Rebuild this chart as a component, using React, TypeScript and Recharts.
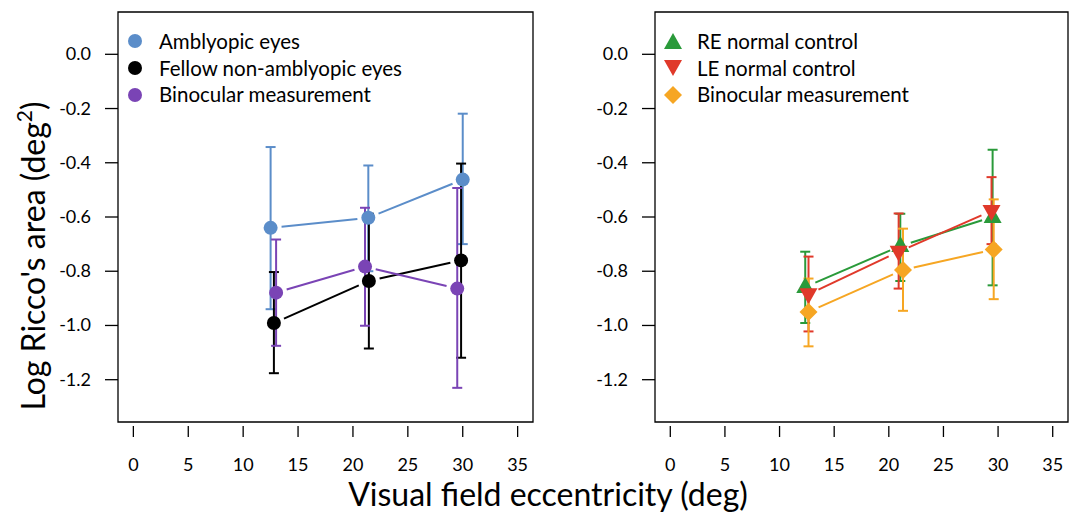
import React from 'react';
import { ScatterChart, Scatter, XAxis, YAxis, ErrorBar, ReferenceArea } from 'recharts';

const FONT = 'Lato, "Open Sans", sans-serif';

// eccentricity (deg), mean log area, lower / upper end of error bar
const amblyopicX = [12.5, 21.4, 30.0];
const amblyopicY = [-0.64, -0.603, -0.462];
const amblyopicLo = [-0.94, -0.8, -0.7];
const amblyopicHi = [-0.342, -0.41, -0.219];

const fellowX = [12.8, 21.45, 29.85];
const fellowY = [-0.991, -0.836, -0.76];
const fellowLo = [-1.176, -1.085, -1.119];
const fellowHi = [-0.803, -0.588, -0.403];

const binoAmbX = [13.0, 21.1, 29.5];
const binoAmbY = [-0.879, -0.783, -0.864];
const binoAmbLo = [-1.075, -1.001, -1.23];
const binoAmbHi = [-0.683, -0.566, -0.493];

const reX = [12.35, 21.05, 29.5];
const reY = [-0.858, -0.707, -0.6];
const reLo = [-0.991, -0.836, -0.852];
const reHi = [-0.728, -0.588, -0.352];

const leX = [12.65, 20.9, 29.4];
const leY = [-0.885, -0.728, -0.578];
const leLo = [-1.022, -0.864, -0.7];
const leHi = [-0.746, -0.587, -0.453];

const binoCtlX = [12.65, 21.3, 29.6];
const binoCtlY = [-0.95, -0.795, -0.72];
const binoCtlLo = [-1.077, -0.946, -0.903];
const binoCtlHi = [-0.827, -0.643, -0.535];

const xTicks = [0, 5, 10, 15, 20, 25, 30, 35];
const yTicks = [0, -0.2, -0.4, -0.6, -0.8, -1.0, -1.2];
const xDomain = [-1.4, 36.4];
const yDomain = [-1.356, 0.156];

const build = (xs: number[], ys: number[], lo: number[], hi: number[]) =>
  xs.map((x, i) => ({ x, y: ys[i], err: [ys[i] - lo[i], hi[i] - ys[i]] }));

const Dot = ({ cx, cy, fill }: any) => <circle cx={cx} cy={cy} r={7} fill={fill} />;
const TriUp = ({ cx, cy, fill }: any) => (
  <path d={`M${cx},${cy - 10}L${cx + 9},${cy + 6}L${cx - 9},${cy + 6}Z`} fill={fill} />
);
const TriDown = ({ cx, cy, fill }: any) => (
  <path d={`M${cx},${cy + 10}L${cx + 9},${cy - 6}L${cx - 9},${cy - 6}Z`} fill={fill} />
);
const Diamond = ({ cx, cy, fill }: any) => (
  <path d={`M${cx},${cy - 9}L${cx + 9},${cy}L${cx},${cy + 9}L${cx - 9},${cy}Z`} fill={fill} />
);

// R type="b": segments stop short of the points
const GapLine = (props: any) => {
  const pts = props.points || [];
  const gap = 11;
  const segs = [];
  for (let i = 0; i < pts.length - 1; i++) {
    const a = pts[i], b = pts[i + 1];
    const dx = b.x - a.x, dy = b.y - a.y;
    const len = Math.sqrt(dx * dx + dy * dy);
    if (len <= gap * 2) continue;
    const ux = dx / len, uy = dy / len;
    segs.push(
      <line key={i} x1={a.x + ux * gap} y1={a.y + uy * gap} x2={b.x - ux * gap} y2={b.y - uy * gap}
        stroke={props.stroke} strokeWidth={2} />
    );
  }
  return <g>{segs}</g>;
};

const XTick = ({ x, y, payload }: any) => (
  <g>
    <line x1={x} x2={x} y1={y + 4} y2={y + 15} stroke="#000" strokeWidth={1.3} />
    <text x={x} y={y + 49} textAnchor="middle" fontSize={18} fontFamily={FONT} fill="#000">{payload.value}</text>
  </g>
);

const YTick = ({ x, y, payload }: any) => (
  <g>
    <line x1={x - 13} x2={x} y1={y} y2={y} stroke="#000" strokeWidth={1.3} />
    <text x={x - 27} y={y + 6} textAnchor="end" fontSize={18} fontFamily={FONT} fill="#000">
      {payload.value.toFixed(1)}
    </text>
  </g>
);

type Series = { name: string; color: string; shape: any; data: any[] };

const LegendBox = ({ items }: { items: Series[] }) => (
  <div style={{ fontFamily: FONT, fontSize: 20.5, lineHeight: '26.7px', color: '#000' }}>
    {items.map((s) => (
      <div key={s.name} style={{ display: 'flex', alignItems: 'center', whiteSpace: 'nowrap' }}>
        <svg width={24} height={24} style={{ marginRight: 12 }}>
          {React.createElement(s.shape, { cx: 12, cy: s.shape === TriUp ? 14 : s.shape === TriDown ? 10 : 12, fill: s.color })}
        </svg>
        <span>{s.name}</span>
      </div>
    ))}
  </div>
);

const Panel = ({ series, width, rightMargin }: { series: Series[]; width: number; rightMargin: number }) => (
  <ScatterChart width={width} height={514} margin={{ top: 12, right: rightMargin, bottom: 32, left: 18 }}>
    <XAxis type="number" dataKey="x" domain={xDomain} ticks={xTicks} axisLine={false} tickLine={false}
      tickSize={0} tickMargin={0} height={60} tick={<XTick />} allowDataOverflow />
    <YAxis type="number" dataKey="y" domain={yDomain} ticks={yTicks} axisLine={false} tickLine={false}
      tickSize={0} tickMargin={0} width={100} tick={<YTick />} allowDataOverflow />
    <ReferenceArea x1={xDomain[0]} x2={xDomain[1]} y1={yDomain[0]} y2={yDomain[1]} fill="none" stroke="#000" strokeWidth={1.3} />
    {series.map((s) => (
      <Scatter key={s.name} name={s.name} data={s.data} fill={s.color} line={GapLine as any} lineType="joint"
        shape={s.shape} isAnimationActive={false}>
        <ErrorBar dataKey="err" direction="y" width={5} stroke={s.color} strokeWidth={2} />
      </Scatter>
    ))}
  </ScatterChart>
);

const leftSeries: Series[] = [
  { name: 'Amblyopic eyes', color: '#5b8dc9', shape: Dot, data: build(amblyopicX, amblyopicY, amblyopicLo, amblyopicHi) },
  { name: 'Fellow non-amblyopic eyes', color: '#000000', shape: Dot, data: build(fellowX, fellowY, fellowLo, fellowHi) },
  { name: 'Binocular measurement', color: '#7a44b5', shape: Dot, data: build(binoAmbX, binoAmbY, binoAmbLo, binoAmbHi) },
];

const rightSeries: Series[] = [
  { name: 'RE normal control', color: '#2a9a3a', shape: TriUp, data: build(reX, reY, reLo, reHi) },
  { name: 'LE normal control', color: '#e0392a', shape: TriDown, data: build(leX, leY, leLo, leHi) },
  { name: 'Binocular measurement', color: '#f6a623', shape: Diamond, data: build(binoCtlX, binoCtlY, binoCtlLo, binoCtlHi) },
];

export default function App() {
  return (
    <div style={{ position: 'absolute', left: 0, top: 0, width: 1077, height: 514, background: '#fff', overflow: 'hidden' }}>
      <div style={{ position: 'absolute', left: 0, top: 0 }}>
        <Panel series={leftSeries} width={560} rightMargin={27} />
      </div>
      <div style={{ position: 'absolute', left: 537, top: 0 }}>
        <Panel series={rightSeries} width={540} rightMargin={9} />
      </div>
      <div style={{ position: 'absolute', left: 123, top: 28 }}>
        <LegendBox items={leftSeries} />
      </div>
      <div style={{ position: 'absolute', left: 661, top: 28 }}>
        <LegendBox items={rightSeries} />
      </div>
      <svg width={70} height={514} style={{ position: 'absolute', left: 0, top: 0 }}>
        <text transform="translate(45,256) rotate(-90)" textAnchor="middle" fontSize={32} fontFamily={FONT} fill="#000">
          Log Ricco's area (deg<tspan dy={-13} fontSize={21}>2</tspan><tspan dy={13}>)</tspan>
        </text>
      </svg>
      <div style={{ position: 'absolute', left: 0, width: 1096, top: 474, textAlign: 'center', fontFamily: FONT, fontSize: 32, lineHeight: 'normal', color: '#000' }}>
        Visual field eccentricity (deg)
      </div>
    </div>
  );
}
